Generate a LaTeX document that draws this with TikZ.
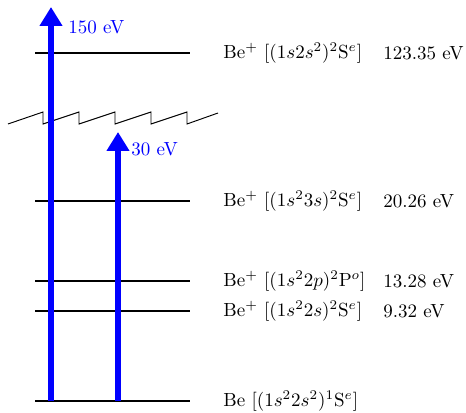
\documentclass[tikz,border=0pt]{standalone}
\usepackage{amsmath}
\usetikzlibrary{arrows.meta}

\begin{document}
\begin{tikzpicture}[x=0.5263pt,y=-0.5263pt]
\tikzset{level/.style = {line width=1.4pt}}
\tikzset{excite/.style = {blue, line width=2.7pt, -{Triangle[width=11.5pt,length=10pt]}}}
\tikzset{state/.style = {anchor=west, inner sep=0pt}}
\useasboundingbox (0,0) rectangle (466,413);

\draw[level] (35,53)--(190,53);
\draw[level] (35,201)--(190,201);
\draw[level] (35,281)--(190,281);
\draw[level] (35,311)--(190,311);
\draw[level] (35,401)--(190,401);

\draw[line width=0.5pt] (8,124)--(43,112)--(43,124)--(79,112)--(79,124)--(115,112)--(115,124)--(151,112)--(151,124)--(187,112)--(187,124)--(218,113);

    \coordinate (g1) at (51,401);
    \coordinate (t1) at (51,7);
    \coordinate (g2) at (118,401);
    \coordinate (t2) at (118,132);

\draw[excite] (g1)--(t1);
\draw[excite] (g2)--(t2);

    \node[state, blue] (e150) at (68,27) {150 eV};
    \node[state, blue] (e30) at (131,149) {30 eV};

    \node[state] (s1) at (223,53) {Be$^+$ [(1$s$2$s^2$)$^2$S$^e$]};
    \node[state] (s2) at (223,201) {Be$^+$ [(1$s^2$3$s$)$^2$S$^e$]};
    \node[state] (s3) at (223,281) {Be$^+$ [(1$s^2$2$p$)$^2$P$^o$]};
    \node[state] (s4) at (223,311) {Be$^+$ [(1$s^2$2$s$)$^2$S$^e$]};
    \node[state] (s5) at (223,401) {Be [(1$s^2$2$s^2$)$^1$S$^e$]};

    \node[state] (v1) at (383,53) {123.35 eV};
    \node[state] (v2) at (383,201) {20.26 eV};
    \node[state] (v3) at (383,281) {13.28 eV};
    \node[state] (v4) at (383,311) {9.32 eV};

\end{tikzpicture}
\end{document}
